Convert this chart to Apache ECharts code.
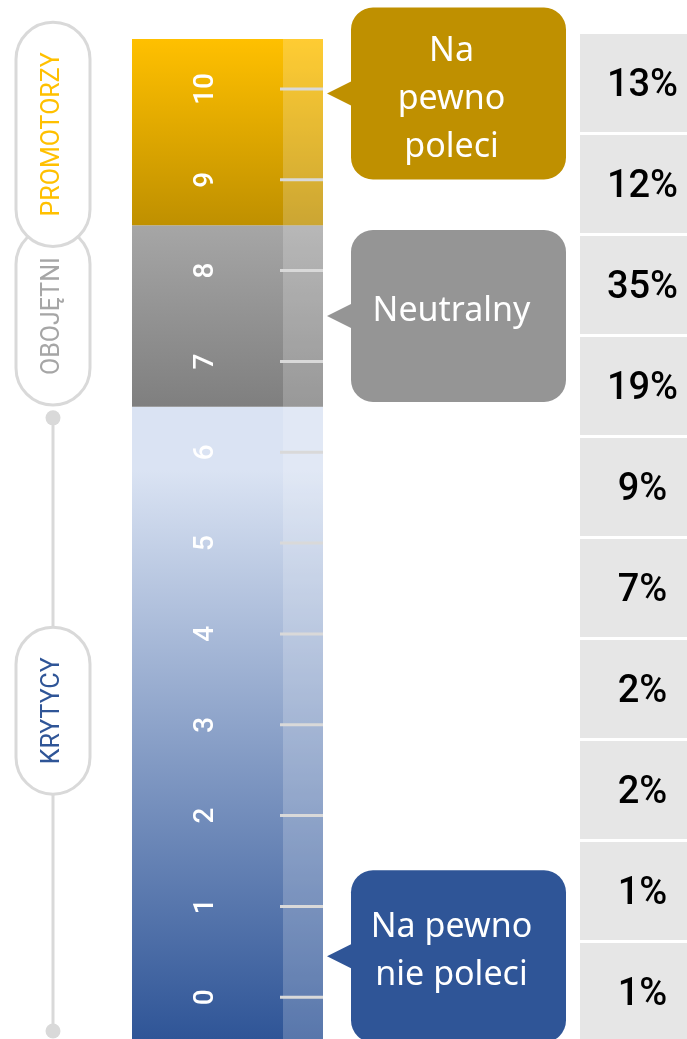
<!DOCTYPE html>
<html>

<head>
	<meta charset="utf-8" />
	<title>NPS - linijka ocen</title>
	<script src="https://cdn.jsdelivr.net/npm/echarts/dist/echarts.min.js"></script>
	<style>
		* {
			margin: 0;
			padding: 0;
		}

		html,
		body {
			width: 100%;
			height: 100%;
			background: #fff;
		}

		#chart {
			width: 687px;
			height: 1039px;
		}
	</style>
</head>

<body>
	<div id="chart"></div>
	<script>
		// oceny na linijce
		var scores = [0, 1, 2, 3, 4, 5, 6, 7, 8, 9, 10];
		// grupy NPS (od dołu)
		var groupNames = ['KRYTYCY', 'OBOJĘTNI', 'PROMOTORZY'];
		var groupFrom = [0, 7, 9];
		var groupTo = [6, 8, 10];
		// dymki przy linijce
		var calloutTexts = ['Na pewno\nnie poleci', 'Neutralny', 'Na\npewno\npoleci'];
		var calloutScores = [0.45, 7.5, 9.95];
		// tabela procentów (od góry)
		var rowLabels = ['10', '9', '8', '7', '6', '5', '4', '3', '2', '1'];
		var rowPercents = [13, 12, 35, 19, 9, 7, 2, 2, 1, 1];

		// zakres osi linijki
		var yMin = -0.46, yMax = 10.55;

		var groupGradients = [
			[{ offset: 0, color: '#DAE3F3' }, { offset: 0.1, color: '#DAE3F3' }, { offset: 1, color: '#2F5597' }],
			[{ offset: 0, color: '#A6A6A6' }, { offset: 1, color: '#7F7F7F' }],
			[{ offset: 0, color: '#FFC000' }, { offset: 1, color: '#BF9000' }]
		];
		var groupTextColors = ['#2F5597', '#A6A6A6', '#FFC000'];
		var calloutColors = ['#2F5597', '#959595', '#BF9000'];

		var measureCtx = document.createElement('canvas').getContext('2d');
		measureCtx.font = '25px Roboto';

		function renderRuler(params, api) {
			var i = params.dataIndex;
			var cs = params.coordSys;
			var lo = i === 0 ? yMin : groupFrom[i] - 0.5;
			var hi = i === groupNames.length - 1 ? yMax : groupTo[i] + 0.5;
			var y1 = api.coord([0, hi])[1];
			var y2 = api.coord([0, lo])[1];
			var stripW = 40;
			return {
				type: 'group',
				children: [
					{
						type: 'rect',
						shape: { x: cs.x, y: y1, width: cs.width, height: y2 - y1 },
						style: { fill: new echarts.graphic.LinearGradient(0, 0, 0, 1, groupGradients[i]) }
					},
					{
						type: 'rect',
						shape: { x: cs.x + cs.width - stripW, y: y1, width: stripW, height: y2 - y1 },
						style: { fill: 'rgba(255,255,255,0.2)' }
					}
				]
			};
		}

		// podziałka linijki: kreska + opis obrócony o 90°
		function renderTick(params, api) {
			var cs = params.coordSys;
			var y = api.coord([0, api.value(1)])[1];
			var right = cs.x + cs.width;
			return {
				type: 'group',
				children: [
					{
						type: 'line',
						shape: { x1: right - 43, y1: y, x2: right, y2: y },
						style: { stroke: '#D9D9D9', lineWidth: 3 }
					},
					{
						type: 'text',
						x: cs.x + 74,
						y: y,
						rotation: Math.PI / 2,
						style: {
							text: String(api.value(1)),
							fill: '#fff',
							fontSize: 28,
							fontWeight: 500,
							fontFamily: 'Roboto',
							align: 'center',
							verticalAlign: 'middle'
						}
					}
				]
			};
		}

		function renderPill(params, api) {
			var i = params.dataIndex;
			var cs = params.coordSys;
			var cx = cs.x - 79;
			var cy = api.coord([0, (groupFrom[i] + groupTo[i]) / 2])[1];
			var h = measureCtx.measureText(groupNames[i]).width + 60;
			var w = 74;
			var children = [];
			if (i === 0) {
				cy -= 14;
				var top = api.coord([0, groupTo[i] + 0.5])[1] + 11;
				var bottom = api.coord([0, yMin])[1] - 8;
				children.push(
					{ type: 'line', shape: { x1: cx, y1: top, x2: cx, y2: bottom }, style: { stroke: '#D9D9D9', lineWidth: 3 } },
					{ type: 'circle', shape: { cx: cx, cy: top, r: 7.5 }, style: { fill: '#D9D9D9' } },
					{ type: 'circle', shape: { cx: cx, cy: bottom, r: 7.5 }, style: { fill: '#D9D9D9' } }
				);
			}
			children.push(
				{
					type: 'rect',
					shape: { x: cx - w / 2, y: cy - h / 2, width: w, height: h, r: w / 2 },
					style: { fill: '#fff', stroke: '#D9D9D9', lineWidth: 3 }
				},
				{
					type: 'text',
					x: cx,
					y: cy,
					rotation: Math.PI / 2,
					style: {
						text: groupNames[i],
						fill: groupTextColors[i],
						fontSize: 25,
						fontFamily: 'Roboto',
						align: 'center',
						verticalAlign: 'middle'
					}
				}
			);
			return { type: 'group', children: children };
		}

		function renderCallout(params, api) {
			var i = params.dataIndex;
			var cs = params.coordSys;
			var ty = api.coord([0, api.value(1)])[1];
			var tipX = cs.x + cs.width + 4;
			var boxX = cs.x + cs.width + 28;
			var w = 215, h = 172;
			var c = calloutColors[i];
			var lines = calloutTexts[i].split('\n').length;
			return {
				type: 'group',
				children: [
					{
						type: 'polygon',
						shape: { points: [[tipX, ty], [boxX + 2, ty - 13], [boxX + 2, ty + 13]] },
						style: { fill: c }
					},
					{
						type: 'rect',
						shape: { x: boxX, y: ty - h / 2, width: w, height: h, r: 22 },
						style: { fill: c }
					},
					{
						type: 'text',
						x: boxX + w / 2 - 7,
						y: ty - 5 + (lines > 2 ? 11 : 0),
						style: {
							text: calloutTexts[i],
							fill: '#fff',
							fontSize: 34,
							fontFamily: 'Noto Sans',
							lineHeight: 48,
							align: 'center',
							verticalAlign: 'middle'
						}
					}
				]
			};
		}

		function renderCell(params, api) {
			var cs = params.coordSys;
			var cy = api.coord([0, api.value(1)])[1];
			var band = api.size([0, 1])[1];
			return {
				type: 'group',
				children: [
					{
						type: 'rect',
						shape: { x: cs.x, y: cy - band / 2, width: cs.width, height: band - 3 },
						style: { fill: '#E6E6E6' }
					},
					{
						type: 'text',
						x: cs.x + cs.width / 2 + 9,
						y: cy + 2,
						style: {
							text: api.value(0) + '%',
							fill: '#000',
							fontSize: 38,
							fontWeight: 500,
							fontFamily: 'Roboto',
							align: 'center',
							verticalAlign: 'middle'
						}
					}
				]
			};
		}

		var chart = echarts.init(document.getElementById('chart'));
		var option = {
			animation: false,
			backgroundColor: '#fff',
			grid: [
				{ left: 132, top: 39, width: 191, height: 1000 },
				{ left: 580, top: 34, width: 107, height: 1010, outerBoundsMode: 'none' }
			],
			xAxis: [
				{ gridIndex: 0, type: 'value', min: 0, max: 1, show: false },
				{ gridIndex: 1, type: 'value', min: 0, max: 40, show: false }
			],
			yAxis: [
				{ gridIndex: 0, type: 'value', min: yMin, max: yMax, show: false },
				{ gridIndex: 1, type: 'category', inverse: true, data: rowLabels, show: false }
			],
			series: [
				{
					type: 'custom',
					xAxisIndex: 0,
					yAxisIndex: 0,
					renderItem: renderRuler,
					data: groupNames.map(function (n, i) { return [0, groupFrom[i], groupTo[i]]; })
				},
				{
					type: 'custom',
					xAxisIndex: 0,
					yAxisIndex: 0,
					renderItem: renderTick,
					data: scores.map(function (s) { return [0, s]; })
				},
				{
					type: 'custom',
					xAxisIndex: 0,
					yAxisIndex: 0,
					renderItem: renderPill,
					data: groupNames.map(function (n, i) { return [0, (groupFrom[i] + groupTo[i]) / 2]; })
				},
				{
					type: 'custom',
					xAxisIndex: 0,
					yAxisIndex: 0,
					renderItem: renderCallout,
					data: calloutScores.map(function (s) { return [0, s]; })
				},
				{
					type: 'custom',
					xAxisIndex: 1,
					yAxisIndex: 1,
					renderItem: renderCell,
					data: rowPercents.map(function (v, i) { return [v, rowLabels[i]]; })
				}
			]
		};
		chart.setOption(option);
	</script>
</body>

</html>
